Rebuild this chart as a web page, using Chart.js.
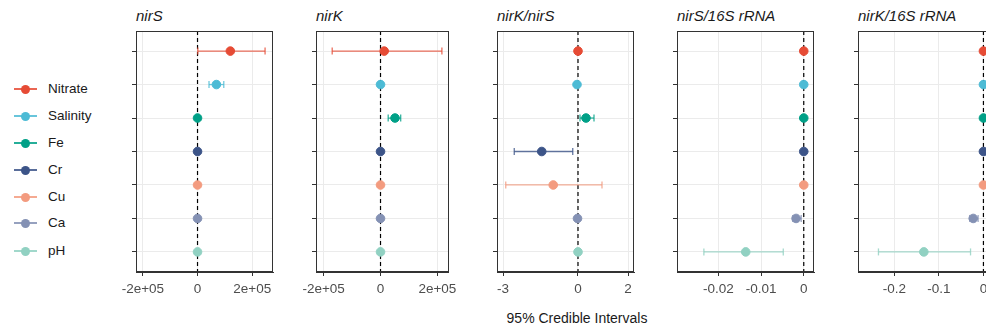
<!DOCTYPE html>
<html>
<head>
<meta charset="utf-8">
<script src="https://cdn.jsdelivr.net/npm/chart.js@4.4.1/dist/chart.umd.min.js"></script>
<style>
  html, body { margin: 0; padding: 0; background: #fff; }
  body { width: 986px; height: 330px; position: relative; overflow: hidden;
         font-family: "Liberation Sans", Arial, sans-serif; }
  .panel { position: absolute; top: 25px; }
  .ptitle { position: absolute; top: 8px; font-size: 15px; line-height: 15px;
            font-style: italic; color: #1a1a1a; white-space: nowrap; }
  .xtitle { position: absolute; top: 311px; left: 577px; transform: translateX(-50%);
            font-size: 14px; line-height: 14px; color: #1a1a1a; white-space: nowrap; }
  .leg { position: absolute; left: 14px; height: 20px; }
  .leg .ln { position: absolute; left: 0; top: 9px; width: 23px; height: 2px; }
  .leg .dt { position: absolute; left: 7px; top: 5.5px; width: 9px; height: 9px; border-radius: 50%; }
  .leg .tx { position: absolute; left: 34px; top: 2px; font-size: 13.5px; line-height: 16px; color: #1a1a1a; white-space: nowrap; }
</style>
</head>
<body>
<div id="legend"></div>
<div id="panels"></div>
<div class="xtitle">95% Credible Intervals</div>
<script>
// categories (top to bottom) and their colours
const categories = ['Nitrate', 'Salinity', 'Fe', 'Cr', 'Cu', 'Ca', 'pH'];
const colors = ['#E64B35', '#4DBBD5', '#00A087', '#3C5488', '#F39B7F', '#8491B4', '#91D1C2'];

// nirS
const nirSMean = [120000, 69000, 0, 0, 0, 0, 0];
const nirSLow  = [1000, 42000, -3000, -2000, -2000, -2000, -2000];
const nirSHigh = [247000, 96000, 3000, 2000, 2000, 2000, 2000];
const nirSTicks = [-200000, 0, 200000];
const nirSTickLabels = ['-2e+05', '0', '2e+05'];

// nirK
const nirKMean = [13000, 0, 51000, 0, 0, 0, 0];
const nirKLow  = [-170000, -3000, 27000, -2000, -2000, -2000, -2000];
const nirKHigh = [216000, 3000, 71000, 2000, 2000, 2000, 2000];
const nirKTicks = [-200000, 0, 200000];
const nirKTickLabels = ['-2e+05', '0', '2e+05'];

// nirK/nirS
const ratioMean = [0, -0.04, 0.32, -1.45, -0.99, -0.02, 0];
const ratioLow  = [-0.05, -0.1, 0.08, -2.55, -2.89, -0.08, -0.04];
const ratioHigh = [0.05, 0.02, 0.64, -0.21, 0.96, 0.04, 0.04];
const ratioTicks = [-3, 0, 2];
const ratioTickLabels = ['-3', '0', '2'];

// nirS/16S rRNA
const nirS16Mean = [0, 0, 0, 0, 0, -0.0018, -0.0136];
const nirS16Low  = [-0.0002, -0.0002, -0.0002, -0.0002, -0.0002, -0.0026, -0.0234];
const nirS16High = [0.0002, 0.0002, 0.0002, 0.0002, 0.0002, -0.0006, -0.0048];
const nirS16Ticks = [-0.02, -0.01, 0];
const nirS16TickLabels = ['-0.02', '-0.01', '0'];

// nirK/16S rRNA
const nirK16Mean = [0, 0, 0, 0, 0, -0.023, -0.134];
const nirK16Low  = [-0.002, -0.002, -0.002, -0.002, -0.002, -0.031, -0.236];
const nirK16High = [0.002, 0.002, 0.002, 0.002, 0.002, -0.012, -0.029];
const nirK16Ticks = [-0.2, -0.1, 0];
const nirK16TickLabels = ['-0.2', '-0.1', '0'];

const panels = [
  { title: 'nirS', mean: nirSMean, low: nirSLow, high: nirSHigh, ticks: nirSTicks, labels: nirSTickLabels, min: -225000, max: 276000, left: 136, right: 273 },
  { title: 'nirK', mean: nirKMean, low: nirKLow, high: nirKHigh, ticks: nirKTicks, labels: nirKTickLabels, min: -227000, max: 240000, left: 316, right: 454 },
  { title: 'nirK/nirS', mean: ratioMean, low: ratioLow, high: ratioHigh, ticks: ratioTicks, labels: ratioTickLabels, min: -3.24, max: 2.24, left: 497, right: 634 },
  { title: 'nirS/16S rRNA', mean: nirS16Mean, low: nirS16Low, high: nirS16High, ticks: nirS16Ticks, labels: nirS16TickLabels, min: -0.0297, max: 0.0024, left: 677, right: 814 },
  { title: 'nirK/16S rRNA', mean: nirK16Mean, low: nirK16Low, high: nirK16High, ticks: nirK16Ticks, labels: nirK16TickLabels, min: -0.282, max: 0.026, left: 858, right: 995 }
];

function alpha(hex, a) {
  const n = parseInt(hex.slice(1), 16);
  return 'rgba(' + (n >> 16) + ',' + ((n >> 8) & 255) + ',' + (n & 255) + ',' + a + ')';
}

// legend
const legendY = [89, 116, 143, 170, 197, 223, 251];
const legendEl = document.getElementById('legend');
categories.forEach((c, i) => {
  const d = document.createElement('div');
  d.className = 'leg';
  d.style.top = (legendY[i] - 10) + 'px';
  d.innerHTML = '<div class="ln" style="background:' + alpha(colors[i], 0.85) + '"></div>' +
                '<div class="dt" style="background:' + colors[i] + '"></div>' +
                '<div class="tx">' + c + '</div>';
  legendEl.appendChild(d);
});

// draws the box around the plot area
const framePlugin = {
  id: 'frame',
  afterDraw(chart) {
    const a = chart.chartArea;
    const ctx = chart.ctx;
    ctx.save();
    ctx.strokeStyle = '#333333';
    ctx.lineWidth = 1;
    ctx.strokeRect(Math.round(a.left) + 0.5, Math.round(a.top) + 0.5,
                   Math.round(a.right - a.left) - 1, Math.round(a.bottom - a.top) - 1);
    ctx.restore();
  }
};

const host = document.getElementById('panels');
const PAD_L = 20, AXIS_W = 10, PAD_R = 8, PAD_T = 6, AXIS_H = 33, H = 280;

panels.forEach(p => {
  const t = document.createElement('div');
  t.className = 'ptitle';
  t.style.left = p.left + 'px';
  t.textContent = p.title;
  host.appendChild(t);

  const wrap = document.createElement('div');
  wrap.className = 'panel';
  const w = (p.right - p.left) + PAD_L + AXIS_W + PAD_R;
  wrap.style.left = (p.left - PAD_L - AXIS_W) + 'px';
  wrap.style.width = w + 'px';
  wrap.style.height = H + 'px';
  const cv = document.createElement('canvas');
  wrap.appendChild(cv);
  host.appendChild(wrap);

  const datasets = [];
  // zero reference line
  datasets.push({
    type: 'line',
    data: [{ x: 0, y: 0.4 }, { x: 0, y: 7.6 }],
    borderColor: '#000',
    borderWidth: 1.2,
    borderDash: [4, 3],
    pointRadius: 0,
    order: 3
  });
  // error bars with caps
  categories.forEach((c, i) => {
    datasets.push({
      type: 'line',
      data: [{ x: p.low[i], y: i + 1 }, { x: p.high[i], y: i + 1 }],
      borderColor: alpha(colors[i], 0.8),
      borderWidth: 1.3,
      pointStyle: 'line',
      rotation: 90,
      pointRadius: 3.5,
      pointBorderColor: alpha(colors[i], 0.8),
      pointBorderWidth: 1.3,
      order: 2
    });
  });
  // posterior means
  datasets.push({
    type: 'scatter',
    data: p.mean.map((m, i) => ({ x: m, y: i + 1 })),
    pointRadius: 4.3,
    pointBorderWidth: 1,
    pointBackgroundColor: colors,
    pointBorderColor: colors,
    order: 1
  });

  new Chart(cv, {
    type: 'scatter',
    data: { datasets },
    options: {
      responsive: true,
      maintainAspectRatio: false,
      animation: false,
      events: [],
      layout: { padding: { left: PAD_L, right: PAD_R, top: PAD_T, bottom: 0 } },
      plugins: { legend: { display: false }, tooltip: { enabled: false } },
      scales: {
        x: {
          type: 'linear',
          min: p.min,
          max: p.max,
          afterBuildTicks: s => { s.ticks = p.ticks.map(v => ({ value: v })); },
          afterFit: s => { s.height = AXIS_H; },
          ticks: {
            callback: (v, i) => p.labels[i],
            color: '#4d4d4d',
            font: { family: '"Liberation Sans", Arial, sans-serif', size: 13.5 },
            padding: 5,
            maxRotation: 0,
            autoSkip: false
          },
          grid: { color: '#ebebeb', lineWidth: 1, tickColor: '#333333', tickLength: 4 },
          border: { display: true, color: '#333333', width: 1 }
        },
        y: {
          type: 'linear',
          reverse: true,
          min: 0.4,
          max: 7.6,
          afterBuildTicks: s => { s.ticks = categories.map((c, i) => ({ value: i + 1 })); },
          afterFit: s => { s.width = AXIS_W; },
          ticks: { display: false },
          grid: { color: '#ebebeb', lineWidth: 1, tickColor: '#333333', tickLength: 4 },
          border: { display: true, color: '#333333', width: 1 }
        }
      }
    },
    plugins: [framePlugin]
  });
});
</script>
</body>
</html>
